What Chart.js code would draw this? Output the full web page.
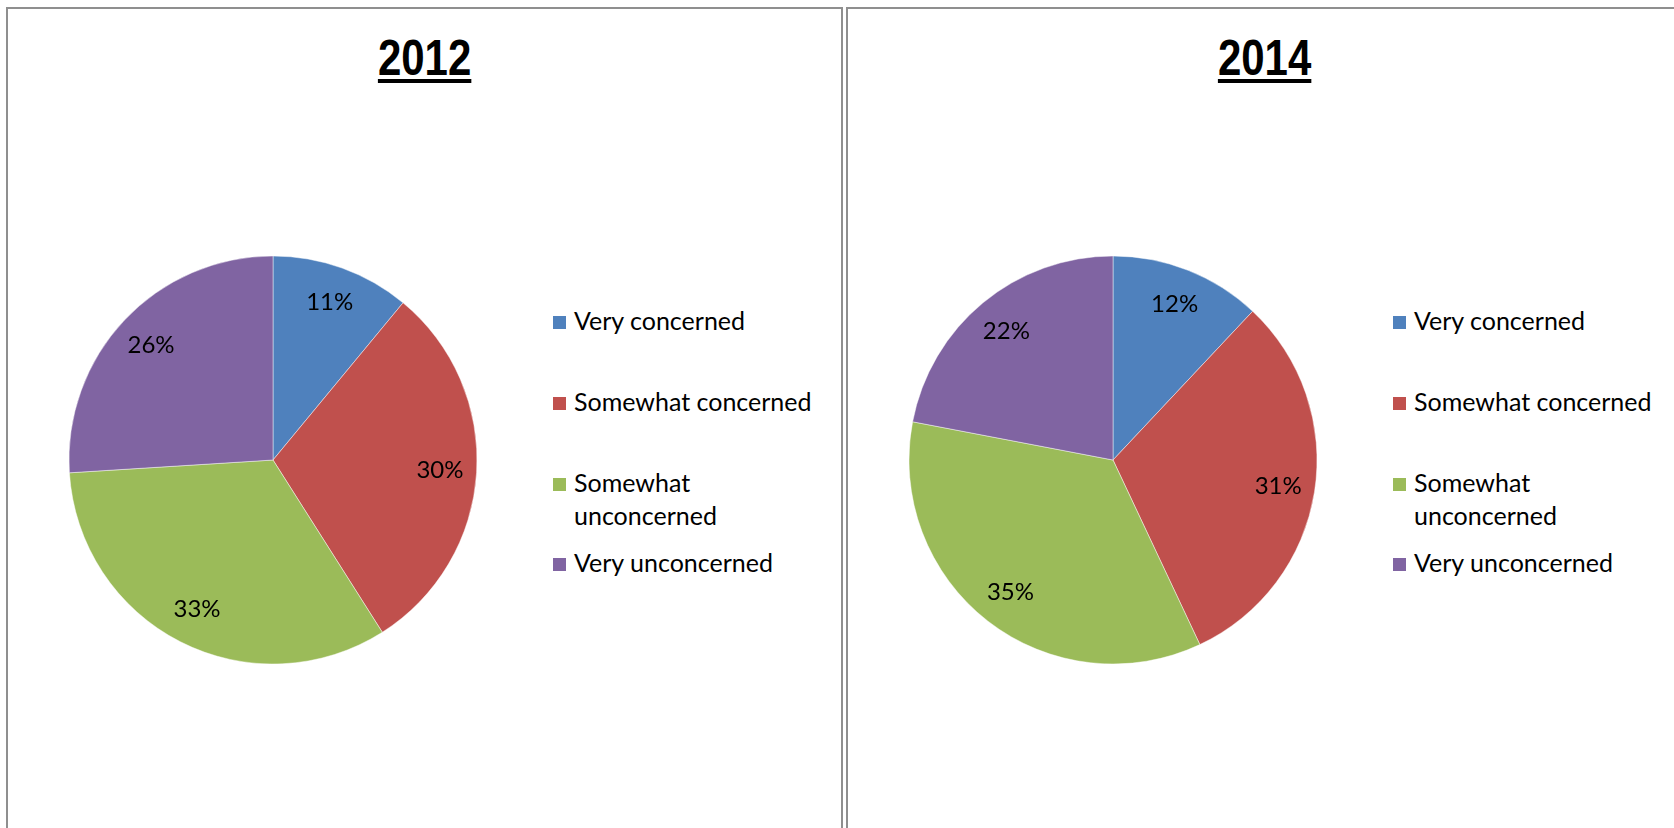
<!DOCTYPE html>
<html>
<head>
<meta charset="utf-8">
<script src="https://cdn.jsdelivr.net/npm/chart.js@4"></script>
<style>
  html, body { margin: 0; padding: 0; background: #fff; }
  body { width: 1674px; height: 828px; position: relative; overflow: hidden; font-family: Lato, "Open Sans", sans-serif; }
  .panel { position: absolute; top: 7px; width: 837px; height: 900px; box-sizing: border-box; border: 2px solid #8f8f8f; background: #fff; }
  .title { position: absolute; left: 0; width: 100%; top: 21px; text-align: center; }
  .title span { display: inline-block; transform: scaleX(0.84); font-family: "Liberation Sans", Arial, sans-serif; font-weight: bold; font-size: 50px; line-height: 56px; color: #000; text-decoration: underline; text-decoration-thickness: 4px; text-underline-offset: 4px; }
  .canvasWrap { position: absolute; width: 440px; height: 440px; }
  .item { position: absolute; left: 0; width: 265px; font-size: 25px; line-height: 33px; color: #000; padding-left: 21px; box-sizing: border-box; }
  .sw { position: absolute; left: 0; top: 12px; width: 13px; height: 13px; }
</style>
</head>
<body>
<script>
// ---- data ----
const categories = ["Very concerned", "Somewhat concerned", "Somewhat unconcerned", "Very unconcerned"];
const years = ["2012", "2014"];
const values2012 = [11, 30, 33, 26];
const values2014 = [12, 31, 35, 22];
const sliceColors = ["#4F81BD", "#C0504D", "#9BBB59", "#8064A2"];

const seriesByYear = [values2012, values2014];

// ---- layout ----
const panelLefts = [6, 846];
const panelOffset = 840;
const pieCenter = { x: 273, y: 460 };
const pieRadius = 204;
const legendLeft = 553;
const legendTops = [304, 385, 466, 546];

const labelPlugin = {
  id: 'sliceLabels',
  afterDatasetsDraw(chart) {
    const ctx = chart.ctx;
    const meta = chart.getDatasetMeta(0);
    const data = chart.data.datasets[0].data;
    ctx.save();
    ctx.font = '24px Lato, "Open Sans", sans-serif';
    ctx.fillStyle = '#000';
    ctx.textAlign = 'center';
    ctx.textBaseline = 'middle';
    meta.data.forEach((arc, i) => {
      const p = arc.getProps(['x', 'y', 'startAngle', 'endAngle', 'outerRadius'], true);
      const mid = (p.startAngle + p.endAngle) / 2;
      const r = p.outerRadius * 0.82;
      ctx.fillText(data[i] + '%', p.x + Math.cos(mid) * r, p.y + Math.sin(mid) * r);
    });
    ctx.restore();
  }
};

years.forEach((yr, k) => {
  const panel = document.createElement('div');
  panel.className = 'panel';
  panel.style.left = panelLefts[k] + 'px';
  document.body.appendChild(panel);

  const title = document.createElement('div');
  title.className = 'title';
  const ts = document.createElement('span');
  ts.textContent = yr;
  title.appendChild(ts);
  panel.appendChild(title);

  const off = k * panelOffset;
  const wrap = document.createElement('div');
  wrap.className = 'canvasWrap';
  wrap.style.left = (pieCenter.x + off - 220) + 'px';
  wrap.style.top = (pieCenter.y - 220) + 'px';
  document.body.appendChild(wrap);
  const cv = document.createElement('canvas');
  cv.width = 440; cv.height = 440;
  wrap.appendChild(cv);

  new Chart(cv, {
    type: 'pie',
    data: {
      labels: categories,
      datasets: [{
        data: seriesByYear[k],
        backgroundColor: sliceColors,
        borderColor: 'rgba(255,255,255,0.45)',
        borderWidth: 1,
        radius: pieRadius
      }]
    },
    options: {
      responsive: false,
      animation: false,
      layout: { padding: 0 },
      plugins: { legend: { display: false }, tooltip: { enabled: false }, title: { display: false } }
    },
    plugins: [labelPlugin]
  });

  categories.forEach((c, i) => {
    const it = document.createElement('div');
    it.className = 'item';
    it.style.left = (legendLeft + off) + 'px';
    it.style.top = legendTops[i] + 'px';
    const sw = document.createElement('span');
    sw.className = 'sw';
    sw.style.background = sliceColors[i];
    it.appendChild(sw);
    it.appendChild(document.createTextNode(c));
    document.body.appendChild(it);
  });
});
</script>
</body>
</html>
